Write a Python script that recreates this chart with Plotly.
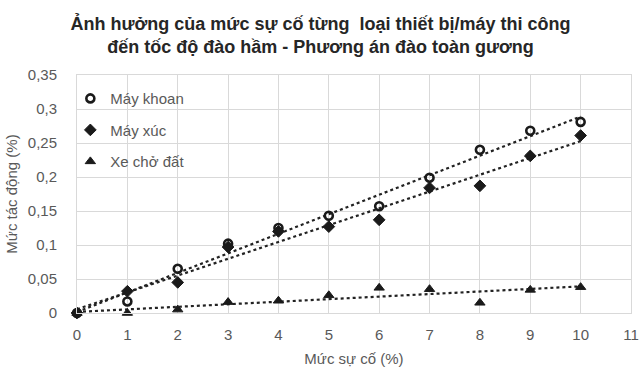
import numpy as np
import plotly.graph_objects as go

# Failure level (%) on the x axis
muc_su_co = [0, 1, 2, 3, 4, 5, 6, 7, 8, 9, 10]

# Impact on tunnelling speed for each equipment type
may_khoan = [0.0, 0.017, 0.065, 0.102, 0.125, 0.143, 0.157, 0.199, 0.240, 0.268, 0.281]
may_xuc = [0.0, 0.032, 0.045, 0.097, 0.120, 0.127, 0.137, 0.184, 0.187, 0.231, 0.261]
xe_cho_dat = [0.0, 0.0, 0.005, 0.016, 0.018, 0.026, 0.037, 0.035, 0.015, 0.034, 0.038]

y_tick_vals = [0, 0.05, 0.1, 0.15, 0.2, 0.25, 0.3, 0.35]
y_tick_text = ["0", "0,05", "0,1", "0,15", "0,2", "0,25", "0,3", "0,35"]
x_tick_vals = list(range(0, 12))

FONT = "Liberation Sans, Arial, sans-serif"
TEXT_GRAY = "#595959"

series = [
    ("Máy khoan", may_khoan, dict(symbol="circle-open", size=8, color="#1a1a1a",
                                  line=dict(width=2.6, color="#1a1a1a"))),
    ("Máy xúc", may_xuc, dict(symbol="diamond", size=9, color="#1a1a1a",
                              line=dict(width=1, color="#1a1a1a"))),
    ("Xe chở đất", xe_cho_dat, dict(symbol="triangle-up", size=9, color="#1a1a1a",
                                    line=dict(width=1, color="#1a1a1a"))),
]

fig = go.Figure()

# Linear trendlines fitted to each series
for name, vals, _ in series:
    slope, intercept = np.polyfit(muc_su_co, vals, 1)
    xs = [muc_su_co[0], muc_su_co[-1]]
    fig.add_trace(go.Scatter(
        x=xs, y=[slope * v + intercept for v in xs],
        mode="lines", line=dict(color="#222222", width=2.2, dash="dot"),
        showlegend=False, hoverinfo="skip",
    ))

for i, (name, vals, marker) in enumerate(series):
    fig.add_trace(go.Scatter(
        x=muc_su_co, y=vals, mode="markers", name=name,
        marker=marker, cliponaxis=False, legendgroup=f"g{i}",
    ))

fig.update_layout(
    width=641, height=369,
    margin=dict(l=77, r=10, t=75, b=56),
    paper_bgcolor="white", plot_bgcolor="white",
    font=dict(family=FONT, size=15, color=TEXT_GRAY),
    title=dict(
        text="Ảnh hưởng của mức sự cố từng  loại thiết bị/máy thi công<br>đến tốc độ đào hầm - Phương án đào toàn gương",
        x=0.5, xanchor="center", yref="container", y=1 - 30 / 369, yanchor="middle",
        font=dict(size=18, color="#262626", family=FONT, weight="bold"),
    ),
    legend=dict(
        x=-0.012, y=0.97, xanchor="left", yanchor="top",
        bgcolor="rgba(0,0,0,0)", font=dict(size=15, color=TEXT_GRAY),
        tracegroupgap=9, itemwidth=30,
    ),
    xaxis=dict(
        range=[0, 11], tickvals=x_tick_vals, showgrid=True, gridcolor="#d9d9d9",
        gridwidth=1, zeroline=False, showline=True, linecolor="#d9d9d9", mirror=True,
        ticks="", ticklabelstandoff=8, tickfont=dict(size=15), automargin=False,
        title=dict(text="Mức sự cố (%)", font=dict(size=15, color=TEXT_GRAY), standoff=11),
    ),
    yaxis=dict(
        range=[0, 0.35], tickvals=y_tick_vals, ticktext=y_tick_text,
        showgrid=True, gridcolor="#d9d9d9", gridwidth=1, zeroline=False,
        showline=True, linecolor="#d9d9d9", mirror=True, ticks="", ticklabelstandoff=16,
        tickfont=dict(size=15), automargin=False,
        title=dict(text="Mức tác động (%)", font=dict(size=15, color=TEXT_GRAY), standoff=6),
    ),
)

fig.write_html("out.html")
